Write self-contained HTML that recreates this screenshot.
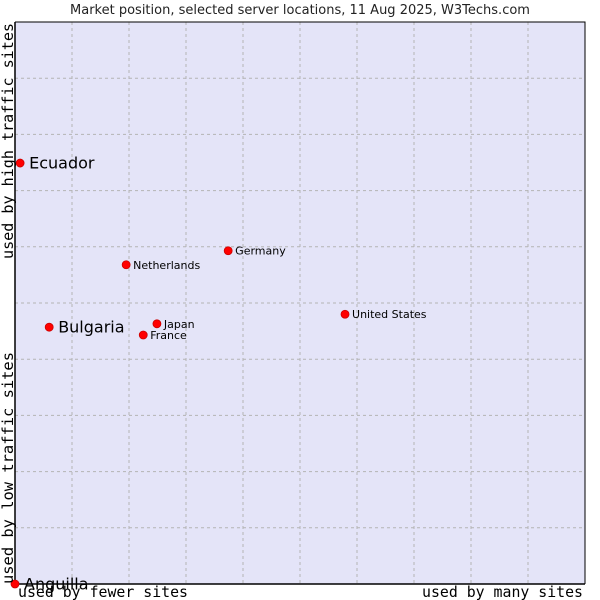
<!DOCTYPE html>
<html><head><meta charset="utf-8"><style>
body{margin:0;background:#fff;width:600px;height:600px;overflow:hidden}
svg{display:block;font-family:"DejaVu Sans","Liberation Sans",sans-serif}
</style></head><body>
<svg id="chart" width="600" height="600">
<text x="300" y="14" text-anchor="middle" font-size="13" fill="#222">Market position, selected server locations, 11 Aug 2025, W3Techs.com</text>
<rect x="15" y="22" width="570" height="562" fill="#e4e4f8"/>
<g id="grid"></g>
<path d="M15 22 V584 H585" fill="none" stroke="#000" stroke-width="1.5"/>
<path d="M15 22 H585 V584" fill="none" stroke="#000" stroke-width="1"/>
<g id="points"></g>
<text transform="translate(13,584) rotate(-90)" font-family="DejaVu Sans Mono,Liberation Mono,monospace" font-size="15" textLength="232" lengthAdjust="spacingAndGlyphs" fill="#000">used by low traffic sites</text>
<text transform="translate(13,259) rotate(-90)" font-family="DejaVu Sans Mono,Liberation Mono,monospace" font-size="15" textLength="236" lengthAdjust="spacingAndGlyphs" fill="#000">used by high traffic sites</text>
<text x="18" y="597" font-family="DejaVu Sans Mono,Liberation Mono,monospace" font-size="15" textLength="170" lengthAdjust="spacingAndGlyphs" fill="#000">used by fewer sites</text>
<text x="422" y="597" font-family="DejaVu Sans Mono,Liberation Mono,monospace" font-size="15" textLength="161" lengthAdjust="spacingAndGlyphs" fill="#000">used by many sites</text>
</svg>
<script>
const countries=["Ecuador","Bulgaria","Netherlands","Germany","United States","Japan","France","Anguilla"];
const xValues=[0.9,6,19.5,37.4,57.9,24.9,22.5,0];
const yValues=[74.9,45.7,56.8,59.3,48,46.3,44.3,0];
const bigLabel=[true,true,false,false,false,false,false,true];
const NS="http://www.w3.org/2000/svg";
const L=15,R=585,T=22,B=584;
const sx=v=>L+v/100*(R-L), sy=v=>B-v/100*(B-T);
const grid=document.getElementById('grid');
for(let i=1;i<10;i++){
 const gx=document.createElementNS(NS,'line');
 
 
 gx.setAttribute('x1',sx(i*10));gx.setAttribute('x2',sx(i*10));gx.setAttribute('y1',T);gx.setAttribute('y2',B);
 gx.setAttribute('stroke','#b4b4b4');gx.setAttribute('stroke-dasharray','3,3');grid.appendChild(gx);
 const gy=document.createElementNS(NS,'line');
 
 
 gy.setAttribute('y1',sy(i*10));gy.setAttribute('y2',sy(i*10));gy.setAttribute('x1',L);gy.setAttribute('x2',R);
 gy.setAttribute('stroke','#b4b4b4');gy.setAttribute('stroke-dasharray','3,3');grid.appendChild(gy);
}
const pts=document.getElementById('points');
countries.forEach((c,i)=>{
 const x=sx(xValues[i]),y=sy(yValues[i]);
 const d=document.createElementNS(NS,'circle');
 
 
 d.setAttribute('cx',x);d.setAttribute('cy',y);d.setAttribute('r',4);
 d.setAttribute('fill','#f00');d.setAttribute('stroke','#c00');d.setAttribute('stroke-width','0.8');pts.appendChild(d);
 const t=document.createElementNS(NS,'text');
 
 
 const big=bigLabel[i];
 t.setAttribute('x',x+(big?9:7));t.setAttribute('y',y+(big?5.5:4));
 t.setAttribute('font-size',big?16:11);t.setAttribute('fill','#000');
 t.textContent=c;pts.appendChild(t);
});
</script>
</body></html>
